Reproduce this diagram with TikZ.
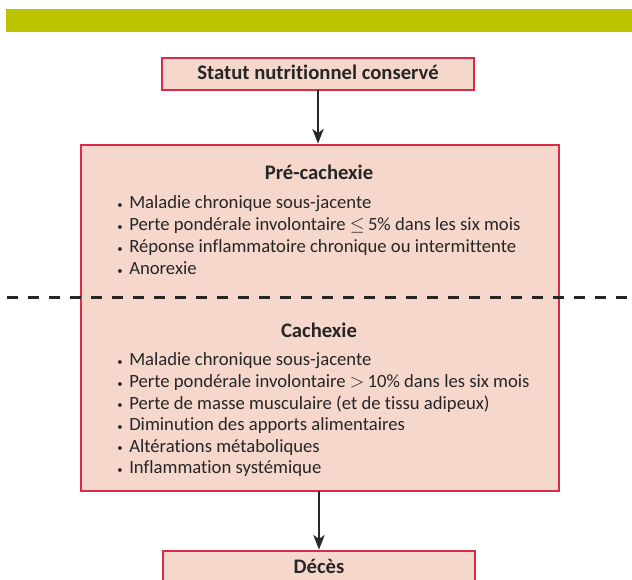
\documentclass[tikz,border=0pt]{standalone}
\usepackage{fontspec}
\setmainfont{Carlito}[Ligatures=NoCommon]
\usetikzlibrary{arrows.meta}

\definecolor{barvert}{RGB}{188,196,0}
\definecolor{rosefond}{RGB}{246,215,204}
\definecolor{rougebord}{RGB}{218,42,74}
\definecolor{traitgris}{RGB}{40,40,40}
\newcommand{\pxu}{0.75pt}
\newcommand{\puce}{\makebox[9pt][l]{\raisebox{0.3pt}{\footnotesize\textbullet}}}

\begin{document}
\begin{tikzpicture}[x=0.75pt, y=-0.75pt,
  every node/.style={font=\fontsize{14}{16}\selectfont, text=black!85},
  boite/.style={draw=rougebord, fill=rosefond, line width=1.1pt, inner sep=0pt, outer sep=0pt},
  titre/.style={font=\fontsize{15.5}{17}\selectfont\bfseries, inner sep=0pt, anchor=base},
  ligne/.style={anchor=base west, inner sep=0pt},
  fleche/.style={draw=traitgris, line width=1.2pt, -{Stealth[length=11pt, width=8.5pt, inset=3pt]}, shorten >=1pt},
  tirets/.style={draw=black!85, line width=2pt, dash pattern=on 8.25pt off 7.5pt}]
\useasboundingbox (0,0) rectangle (632,580);
\clip (0,0) rectangle (632,580);

\fill[barvert] (6,9) rectangle (632,32);

\node[boite, minimum width=312*\pxu, minimum height=32*\pxu] (statut) at (318,74) {};
\node[titre] (statuttxt) at (318,80) {Statut nutritionnel conservé};

\node[boite, minimum width=478*\pxu, minimum height=346*\pxu] (cadre) at (320,318) {};

\node[titre] (pretitre) at (319,180) {Pré-cachexie};
\node[ligne] (pre1) at (117,209) {\puce Maladie chronique sous-jacente};
\node[ligne] (pre2) at (117,231) {\puce Perte pondérale involontaire $\leq$\,5\% dans les six mois};
\node[ligne] (pre3) at (117,253) {\puce Réponse inflammatoire chronique ou intermittente};
\node[ligne] (pre4) at (117,275) {\puce Anorexie};

\node[titre] (cachtitre) at (319,338) {Cachexie};
\node[ligne] (cach1) at (117,366) {\puce Maladie chronique sous-jacente};
\node[ligne] (cach2) at (117,387.6) {\puce Perte pondérale involontaire $>$\,10\% dans les six mois};
\node[ligne] (cach3) at (117,409.2) {\puce Perte de masse musculaire (et de tissu adipeux)};
\node[ligne] (cach4) at (117,430.8) {\puce Diminution des apports alimentaires};
\node[ligne] (cach5) at (117,452.4) {\puce Altérations métaboliques};
\node[ligne] (cach6) at (117,474) {\puce Inflammation systémique};

\node[boite, minimum width=312*\pxu, minimum height=34*\pxu] (deces) at (319,568) {};
\node[titre] (decestxt) at (319,574) {Décès};

\coordinate (sepg) at (7,297.5);
\coordinate (sepd) at (632,297.5);
\draw[tirets] (sepg) -- (sepd);

\draw[fleche] (statut.south) -- (statut.south |- cadre.north);
\draw[fleche] (deces.north |- cadre.south) -- (deces.north);
\end{tikzpicture}
\end{document}
